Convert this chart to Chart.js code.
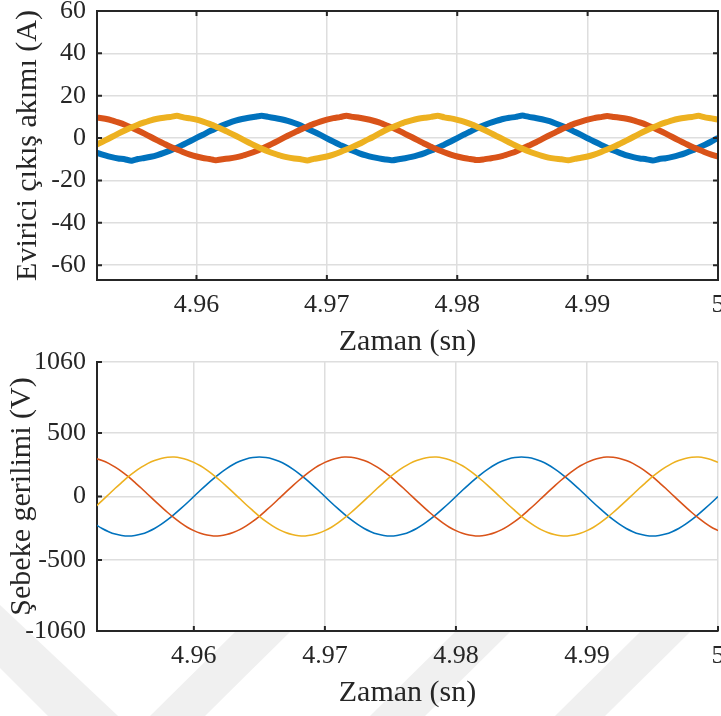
<!DOCTYPE html>
<html>
<head>
<meta charset="utf-8">
<script src="https://cdn.jsdelivr.net/npm/chart.js@4.4.1/dist/chart.umd.min.js"></script>
<style>
  html, body { margin: 0; padding: 0; background: #fff; width: 721px; height: 716px; overflow: hidden; position: relative; }
  #wm { position: absolute; left: 0; top: 0; }
  canvas.plot { position: absolute; left: 0; }
</style>
</head>
<body>
<svg id="wm" width="721" height="716">
  <g fill="#f0f0f0">
    <polygon points="0,605 0,668 48,716 118,716" />
    <polygon points="150,716 205,716 290,632 235,632" />
    <polygon points="370,716 425,716 510,632 455,632" />
    <polygon points="555,716 605,716 690,632 640,632" />
  </g>
</svg>
<canvas id="akim" class="plot" width="721" height="360" style="top:0;width:721px;height:360px"></canvas>
<canvas id="gerilim" class="plot" width="721" height="366" style="top:350px;width:721px;height:366px"></canvas>
<script>
// Time samples (s)
const zaman = [4.952,4.9525,4.953,4.9535,4.954,4.9545,4.955,4.9555,4.956,4.9565,4.957,4.9575,4.958,4.9585,4.959,4.9595,
  4.96,4.9605,4.961,4.9615,4.962,4.9625,4.963,4.9635,4.964,4.9645,4.965,4.9655,4.966,4.9665,4.967,4.9675,4.968,4.9685,4.969,4.9695,
  4.97,4.9705,4.971,4.9715,4.972,4.9725,4.973,4.9735,4.974,4.9745,4.975,4.9755,4.976,4.9765,4.977,4.9775,4.978,4.9785,4.979,4.9795,
  4.98,4.9805,4.981,4.9815,4.982,4.9825,4.983,4.9835,4.984,4.9845,4.985,4.9855,4.986,4.9865,4.987,4.9875,4.988,4.9885,4.989,4.9895,
  4.99,4.9905,4.991,4.9915,4.992,4.9925,4.993,4.9935,4.994,4.9945,4.995,4.9955,4.996,4.9965,4.997,4.9975,4.998,4.9985,4.999,4.9995,5];

// Inverter output currents (A), phases a, b, c
const akimA = [-5.9,-7.2,-8.2,-9.0,-9.6,-10.0,-10.7,-9.9,-9.4,-8.8,-8.0,-7.0,-5.8,-4.5,-3.0,-1.5,0.1,1.6,3.2,4.6,6.0,7.2,8.2,9.0,9.6,10.1,10.6,10.0,9.5,8.9,8.1,7.1,5.9,4.4,3.0,1.5,-0.1,-1.7,-3.2,-4.6,
  -6.0,-7.2,-8.2,-9.0,-9.6,-10.1,-10.5,-10.0,-9.5,-8.9,-8.1,-7.1,-5.9,-4.5,-3.1,-1.6,0.0,1.6,3.1,4.6,5.9,7.1,8.1,9.0,9.6,10.0,10.7,10.0,9.5,8.9,8.1,7.0,5.8,4.5,3.0,1.5,-0.1,-1.6,-3.1,-4.5,
  -5.9,-7.1,-8.2,-9.0,-9.6,-10.0,-10.6,-9.9,-9.5,-8.9,-8.1,-7.1,-5.9,-4.5,-3.1,-1.6,0.1];
const akimB = [9.9,9.6,9.1,8.4,7.4,6.3,5.0,3.6,2.1,0.5,-1.1,-2.6,-4.1,-5.4,-6.7,-7.8,-8.7,-9.4,-9.9,-10.5,-10.0,-9.6,-9.1,-8.4,-7.4,-6.3,-5.0,-3.6,-2.1,-0.5,1.1,2.6,4.1,5.4,6.7,7.8,8.7,9.4,9.9,10.5,
  10.0,9.6,9.0,8.3,7.4,6.2,5.0,3.6,2.0,0.5,-1.1,-2.7,-4.1,-5.5,-6.7,-7.8,-8.7,-9.4,-9.9,-10.4,-10.1,-9.6,-9.1,-8.4,-7.4,-6.3,-4.9,-3.5,-2.1,-0.5,1.1,2.6,4.2,5.5,6.8,7.8,8.7,9.4,9.9,10.4,
  10.0,9.6,9.1,8.4,7.4,6.3,5.0,3.6,2.1,0.5,-1.1,-2.6,-4.1,-5.4,-6.7,-7.8,-8.7];
const akimC = [-4.1,-2.6,-1.1,0.5,2.1,3.6,5.0,6.3,7.4,8.4,9.1,9.6,10.0,10.5,9.8,9.3,8.7,7.8,6.7,5.4,4.1,2.6,1.1,-0.5,-2.1,-3.6,-5.0,-6.3,-7.4,-8.4,-9.1,-9.6,-10.0,-10.6,-9.8,-9.3,-8.7,-7.8,-6.7,-5.4,
  -4.1,-2.7,-1.1,0.4,2.1,3.7,5.0,6.3,7.5,8.4,9.1,9.6,10.0,10.6,9.8,9.3,8.6,7.8,6.7,5.4,4.1,2.6,1.0,-0.5,-2.1,-3.6,-5.0,-6.3,-7.4,-8.4,-9.2,-9.7,-10.0,-10.5,-9.8,-9.3,-8.7,-7.8,-6.7,-5.4,
  -4.1,-2.6,-1.1,0.5,2.1,3.6,5.0,6.3,7.4,8.4,9.1,9.6,10.0,10.5,9.8,9.3,8.7];

// Grid phase voltages (V)
const gerilimA = [-183,-220,-252,-277,-296,-307,-311,-307,-296,-277,-252,-220,-183,-141,-96,-49,0,49,96,141,183,220,252,277,296,307,311,307,296,277,252,220,183,141,96,49,0,-49,-96,-141,
  -183,-220,-252,-277,-296,-307,-311,-307,-296,-277,-252,-220,-183,-141,-96,-49,0,49,96,141,183,220,252,277,296,307,311,307,296,277,252,220,183,141,96,49,0,-49,-96,-141,
  -183,-220,-252,-277,-296,-307,-311,-307,-296,-277,-252,-220,-183,-141,-96,-49,0];
const gerilimB = [309,300,284,261,231,196,156,111,65,16,-33,-80,-126,-169,-208,-242,-269,-290,-304,-311,-309,-300,-284,-261,-231,-196,-156,-111,-65,-16,33,80,126,169,208,242,269,290,304,311,
  309,300,284,261,231,196,156,111,65,16,-33,-80,-126,-169,-208,-242,-269,-290,-304,-311,-309,-300,-284,-261,-231,-196,-156,-111,-65,-16,33,80,126,169,208,242,269,290,304,311,
  309,300,284,261,231,196,156,111,65,16,-33,-80,-126,-169,-208,-242,-269];
const gerilimC = [-126,-80,-33,16,65,111,156,196,231,261,284,300,309,311,304,290,269,242,208,169,126,80,33,-16,-65,-111,-156,-196,-231,-261,-284,-300,-309,-311,-304,-290,-269,-242,-208,-169,
  -126,-80,-33,16,65,111,156,196,231,261,284,300,309,311,304,290,269,242,208,169,126,80,33,-16,-65,-111,-156,-196,-231,-261,-284,-300,-309,-311,-304,-290,-269,-242,-208,-169,
  -126,-80,-33,16,65,111,156,196,231,261,284,300,309,311,304,290,269];

// Axis ticks and their labels
const zamanTicks = [4.96, 4.97, 4.98, 4.99, 5];
const zamanTickLabels = ['4.96', '4.97', '4.98', '4.99', '5'];
const akimTicks = [-60, -40, -20, 0, 20, 40, 60];
const akimTickLabels = ['-60', '-40', '-20', '0', '20', '40', '60'];
const gerilimTicks = [-1060, -500, 0, 500, 1060];
const gerilimTickLabels = ['-1060', '-500', '0', '500', '1060'];

const faz = ['#0072BD', '#D95319', '#EDB120'];
const INK = '#262626';
const GRID = '#dedede';
const SERIF = "'Liberation Serif', 'Times New Roman', serif";

const pts = (ys) => zaman.map((t, i) => ({ x: t, y: ys[i] }));

// Inward tick marks, plus the full box when requested
const axisFrame = {
  id: 'axisFrame',
  afterDatasetsDraw(chart, args, opts) {
    const { ctx, chartArea: a, scales: { x, y } } = chart;
    const L = 5;
    ctx.save();
    ctx.strokeStyle = INK;
    ctx.lineWidth = 2;
    ctx.beginPath();
    x.ticks.forEach(t => {
      const px = x.getPixelForValue(t.value);
      ctx.moveTo(px, a.bottom); ctx.lineTo(px, a.bottom - L);
      if (opts.box) { ctx.moveTo(px, a.top); ctx.lineTo(px, a.top + L); }
    });
    y.ticks.forEach(t => {
      const py = y.getPixelForValue(t.value);
      ctx.moveTo(a.left, py); ctx.lineTo(a.left + L, py);
      if (opts.box) { ctx.moveTo(a.right, py); ctx.lineTo(a.right - L, py); }
    });
    ctx.stroke();
    if (opts.box) ctx.strokeRect(a.left, a.top, a.right - a.left, a.bottom - a.top);
    ctx.restore();
  }
};

function fixedTicks(values) {
  return (scale) => { scale.ticks = values.map(v => ({ value: v })); };
}
function fixedSize(w, h) {
  return (scale) => {
    if (w !== null) scale.width = w;
    if (h !== null) scale.height = h;
    scale.paddingLeft = 0; scale.paddingRight = 0;
    scale.paddingTop = 0; scale.paddingBottom = 0;
  };
}

function xAxis(min, height, tickPad, titlePad) {
  return {
    type: 'linear', min: min, max: 5,
    afterBuildTicks: fixedTicks(zamanTicks),
    afterFit: fixedSize(null, height),
    grid: { color: GRID, lineWidth: 1.5, drawTicks: false },
    border: { display: true, color: INK, width: 2 },
    ticks: {
      autoSkip: false, maxRotation: 0, padding: tickPad, color: INK,
      font: { family: SERIF, size: 26 },
      callback: (v, i) => zamanTickLabels[i]
    },
    title: { display: true, text: 'Zaman (sn)', color: INK, padding: titlePad, font: { family: SERIF, size: 30 } }
  };
}
function yAxis(min, max, ticks, labels, title, titlePad) {
  return {
    type: 'linear', min: min, max: max,
    afterBuildTicks: fixedTicks(ticks),
    afterFit: fixedSize(97, null),
    grid: { color: GRID, lineWidth: 1.5, drawTicks: false },
    border: { display: true, color: INK, width: 2 },
    ticks: {
      autoSkip: false, padding: 11, color: INK,
      font: { family: SERIF, size: 26 },
      callback: (v, i) => labels[i]
    },
    title: { display: true, text: title, color: INK, padding: titlePad, font: { family: SERIF, size: 30 } }
  };
}

function series(ys, color, width, tension, order) {
  return {
    data: pts(ys), borderColor: color, borderWidth: width, pointRadius: 0,
    tension: tension, clip: 0, order: order, fill: false,
    borderJoinStyle: 'round', borderCapStyle: 'butt'
  };
}

const common = {
  responsive: false, animation: false, events: [],
  plugins: { legend: { display: false }, tooltip: { enabled: false } }
};

new Chart(document.getElementById('akim'), {
  type: 'line',
  data: { datasets: [
    series(akimA, faz[0], 6, 0.15, 3),
    series(akimB, faz[1], 6, 0.15, 2),
    series(akimC, faz[2], 6, 0.15, 1)
  ] },
  options: Object.assign({}, common, {
    layout: { padding: { top: 11, right: 3, bottom: 0, left: 0 } },
    plugins: Object.assign({}, common.plugins, { axisFrame: { box: true } }),
    scales: {
      x: xAxis(4.95237, 80, 10, { top: 0, bottom: 0 }),
      y: yAxis(-67, 60, akimTicks, akimTickLabels, 'Evirici çıkış akımı (A)', { top: 10, bottom: 0 })
    }
  }),
  plugins: [axisFrame]
});

new Chart(document.getElementById('gerilim'), {
  type: 'line',
  data: { datasets: [
    series(gerilimA, faz[0], 1.6, 0.3, 3),
    series(gerilimB, faz[1], 1.6, 0.3, 2),
    series(gerilimC, faz[2], 1.6, 0.3, 1)
  ] },
  options: Object.assign({}, common, {
    layout: { padding: { top: 12, right: 3, bottom: 0, left: 0 } },
    plugins: Object.assign({}, common.plugins, { axisFrame: { box: false } }),
    scales: {
      x: xAxis(4.95261, 85, 10, { top: 0, bottom: 5 }),
      y: yAxis(-1060, 1060, gerilimTicks, gerilimTickLabels, 'Şebeke gerilimi (V)', { top: 4, bottom: 0 })
    }
  }),
  plugins: [axisFrame]
});
</script>
</body>
</html>
